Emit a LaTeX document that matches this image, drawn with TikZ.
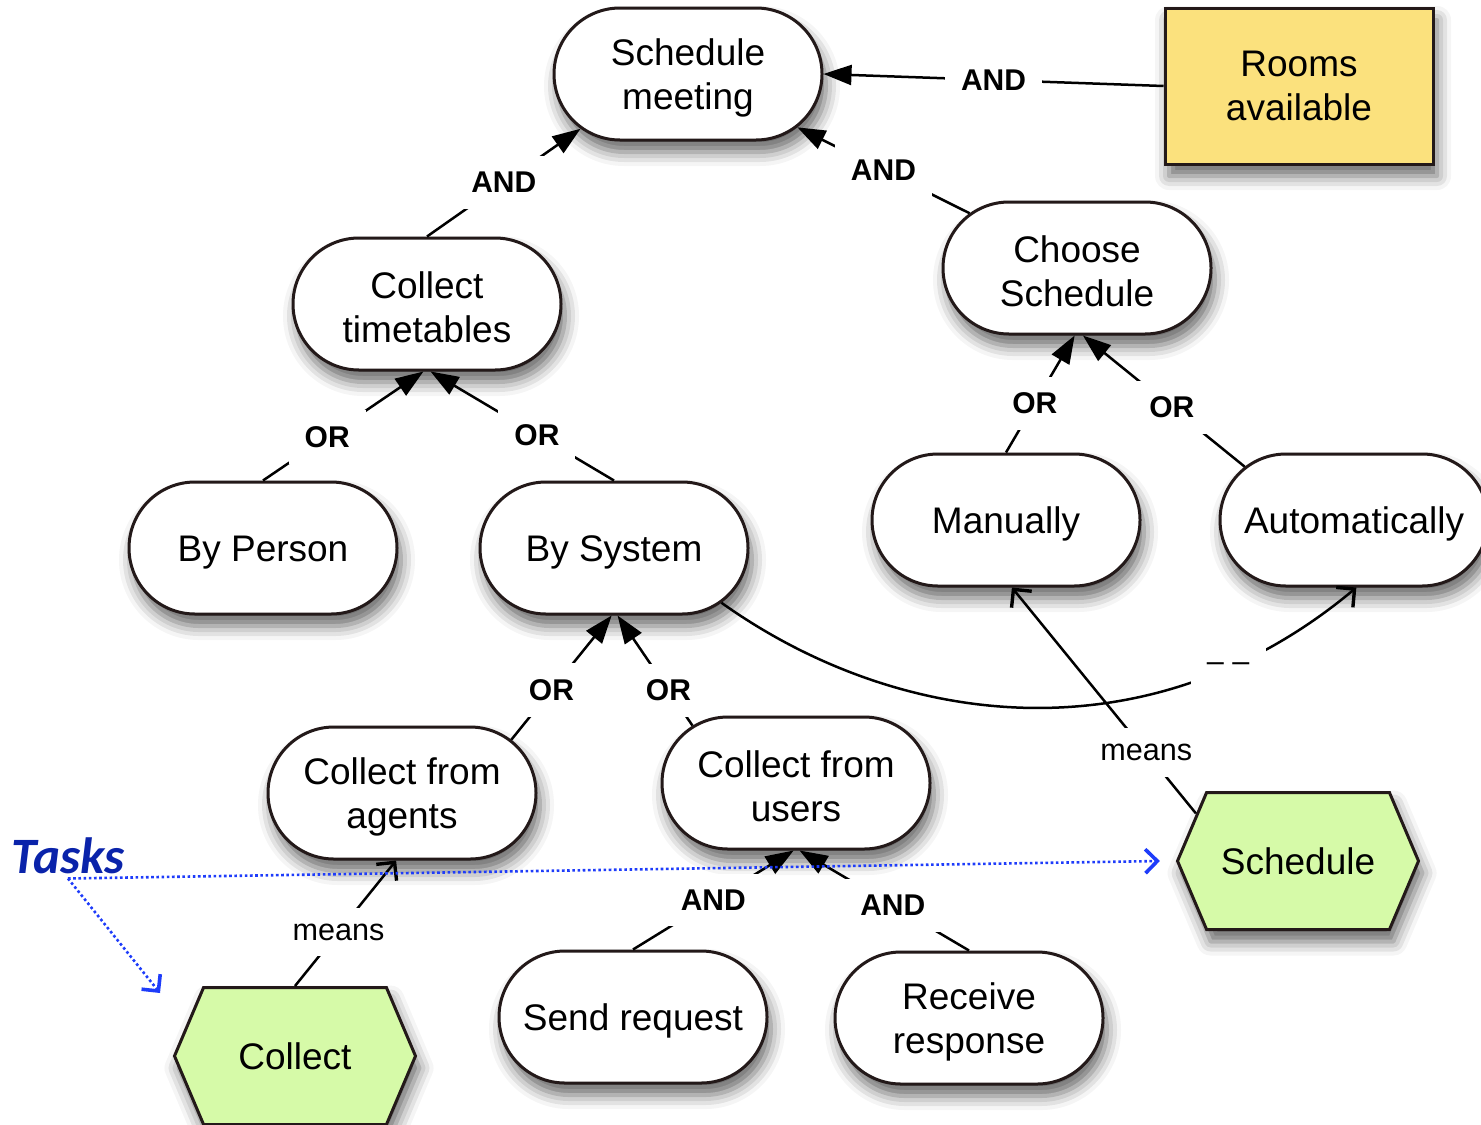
\documentclass[tikz,border=0pt]{standalone}
\usepackage{fontspec}
\setmainfont{Liberation Sans}
\newfontfamily\tasksfont{Carlito}
\usetikzlibrary{arrows.meta,shapes.misc,shapes.symbols,shadows.blur}
\definecolor{rim}{RGB}{35,25,25}
\definecolor{roomyellow}{RGB}{251,225,125}
\definecolor{taskgreen}{RGB}{214,250,168}
\definecolor{taskblue}{RGB}{30,60,250}
\definecolor{tasksink}{RGB}{10,35,170}

\begin{document}
\begin{tikzpicture}[x=0.5pt, y=-0.5pt,
    soft/.style={blur shadow={shadow xshift=2pt, shadow yshift=-6pt, shadow blur radius=7pt, shadow opacity=60}},
    goal/.style={rounded rectangle, draw=rim, line width=1.5pt, fill=white, soft,
      minimum width=86pt, minimum height=66pt, inner xsep=-24pt, align=center,
      font=\fontsize{18.5}{22}\selectfont},
    oneline/.style={text height=17pt},
    twoline/.style={text height=39pt},
    res/.style={rectangle, draw=rim, line width=1.5pt, fill=roomyellow, soft,
      minimum width=134pt, minimum height=78pt, align=center,
      font=\fontsize{18.5}{22}\selectfont},
    task/.style={signal, signal to=west and east, signal pointer angle=134,
      draw=rim, line width=1.5pt, fill=taskgreen, soft,
      minimum width=120.5pt, minimum height=68.5pt,
      font=\fontsize{18.5}{22}\selectfont},
    lbl/.style={fill=white, inner sep=8pt, font=\bfseries\fontsize{15}{18}\selectfont},
    mlbl/.style={fill=white, inner sep=8pt, font=\fontsize{15.3}{18}\selectfont},
    link/.style={line width=1.25pt, -{Triangle[length=14pt,width=10pt]}},
    meanslink/.style={line width=1.25pt, -{Straight Barb[length=6.5pt,width=13pt,line width=1.7pt]}},
    tasklink/.style={taskblue, line width=1.3pt, dash pattern=on 1.3pt off 1.3pt,
      -{Straight Barb[length=6pt,width=12pt,line width=1.8pt]}}]
  \useasboundingbox (0,0) rectangle (1481,1124);

  % goals and resource
  \node[goal,twoline] (smeet) at (688,74) {Schedule\\meeting};
  \node[res] (rooms) at (1299,86) {Rooms\\available};
  \node[goal,twoline] (ctime) at (427,304) {Collect\\timetables};
  \node[goal,twoline] (csched) at (1077,268) {Choose\\Schedule};
  \node[goal,oneline] (byperson) at (263,548) {By Person};
  \node[goal,oneline] (bysys) at (614,548) {By System};
  \node[goal,oneline] (manual) at (1006,520) {Manually};
  \node[goal,oneline] (auto) at (1354,520) {Automatically};
  \node[goal,twoline] (cagents) at (402,793) {Collect from\\agents};
  \node[goal,twoline] (cusers) at (796,783) {Collect from\\users};
  \node[goal,oneline] (sendreq) at (633,1017) {Send request};
  \node[goal,twoline] (recresp) at (969,1018) {Receive\\response};

  % tasks
  \node[task] (sched) at (1298,861) {Schedule};
  \node[task] (collect) at (295,1056) {Collect};
  \node[text=tasksink, inner sep=2pt, font=\tasksfont\bfseries\itshape\fontsize{25.5}{30}\selectfont] (tasks) at (68,856) {Tasks};
  \coordinate (tkend) at (160,993);

  % decompositions
  \draw[link] (ctime.north) -- node[lbl]{AND} (smeet.207);
  \draw[link] (csched.153) -- node[lbl]{AND} (smeet.334);
  \draw[link] (rooms.west) -- node[lbl]{AND} (smeet.east);
  \draw[link] (byperson.north) -- node[lbl,pos=0.4]{OR} (ctime.267);
  \draw[link] (bysys.north) -- node[lbl,pos=0.42]{OR} (ctime.273);
  \draw[link] (manual.north) -- node[lbl,pos=0.42]{OR} (csched.268);
  \draw[link] (auto.154) -- node[lbl,pos=0.45]{OR} (csched.275);
  \draw[link] (cagents.26) -- node[lbl,pos=0.4]{OR} (bysys.268);
  \draw[link] (cusers.151) -- node[lbl,pos=0.32]{OR} (bysys.273);
  \draw[link] (sendreq.north) -- node[lbl]{AND} (cusers.268);
  \draw[link] (recresp.north) -- node[lbl,pos=0.45]{AND} (cusers.273);

  % means-ends
  \draw[meanslink] (collect.north) -- node[mlbl,pos=0.43]{means} (cagents.265);
  \draw[meanslink] (sched.155) -- node[mlbl,pos=0.27]{means} (manual.275);
  \draw[meanslink] (bysys.333) .. controls (900,730) and (1150,760) .. node[mlbl,pos=0.8]{-- --} (auto.272);

  \draw[tasklink] (tasks.south) -- ([xshift=-8pt]sched.west);
  \draw[tasklink] (tasks.south) -- (tkend);
\end{tikzpicture}
\end{document}
